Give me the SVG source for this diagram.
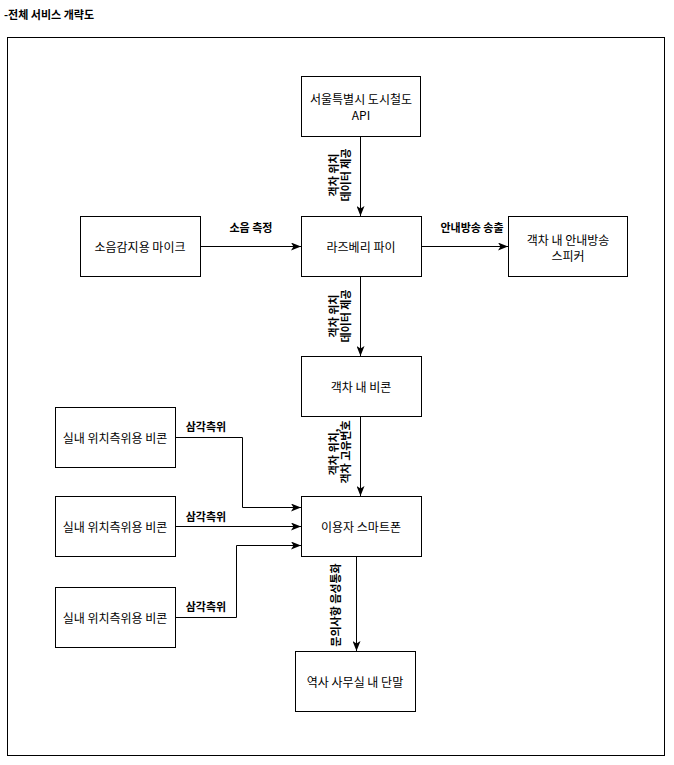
<svg xmlns="http://www.w3.org/2000/svg" width="674" height="765" viewBox="0 0 674 765">
  <style>
    .box { fill: #ffffff; stroke: #000000; stroke-width: 1; }
    .frame { fill: none; stroke: #000000; stroke-width: 1; }
    .edge { fill: none; stroke: #000000; stroke-width: 1; }
    .t { font-family: "Noto Sans CJK KR", "Noto Sans", sans-serif; font-size: 12px; fill: #000000; text-anchor: middle; dominant-baseline: central; }
    .lbl { font-family: "Noto Sans CJK KR", "Noto Sans", sans-serif; font-size: 11px; font-weight: bold; fill: #000000; text-anchor: middle; dominant-baseline: central; }
    .title { font-family: "Noto Sans CJK KR", "Noto Sans", sans-serif; font-size: 11px; font-weight: bold; fill: #000000; }
  </style>
  <defs>
    <marker id="arrow" viewBox="0 0 10 8" refX="10" refY="4" markerWidth="10" markerHeight="8" markerUnits="userSpaceOnUse" orient="auto">
      <path d="M0,0 L10,4 L0,8 L2.5,4 Z" fill="#000000"/>
    </marker>
  </defs>

  <rect width="674" height="765" fill="#ffffff"/>
  <text class="title" x="4" y="19">-전체 서비스 개략도</text>
  <rect class="frame" x="7.5" y="37.5" width="657" height="718"/>

  <!-- connectors -->
  <g id="connectors">
    <path class="edge" d="M360.5,136 L360.5,216" marker-end="url(#arrow)"/>
    <path class="edge" d="M200,246.5 L301,246.5" marker-end="url(#arrow)"/>
    <path class="edge" d="M421,246.5 L508,246.5" marker-end="url(#arrow)"/>
    <path class="edge" d="M360.5,276 L360.5,356" marker-end="url(#arrow)"/>
    <path class="edge" d="M360.5,416 L360.5,496" marker-end="url(#arrow)"/>
    <path class="edge" d="M175,437.5 L242.5,437.5 L242.5,507.5 L301,507.5" marker-end="url(#arrow)"/>
    <path class="edge" d="M175,526.5 L301,526.5" marker-end="url(#arrow)"/>
    <path class="edge" d="M175,617.5 L236.5,617.5 L236.5,545.5 L301,545.5" marker-end="url(#arrow)"/>
    <path class="edge" d="M356.5,556 L356.5,651" marker-end="url(#arrow)"/>

    <text class="lbl" transform="translate(339,175) rotate(-90)"><tspan x="0" y="-6">객차 위치</tspan><tspan x="0" y="6">데이터 제공</tspan></text>
    <text class="lbl" transform="translate(339,316) rotate(-90)"><tspan x="0" y="-6">객차 위치</tspan><tspan x="0" y="6">데이터 제공</tspan></text>
    <text class="lbl" transform="translate(339,452) rotate(-90)"><tspan x="0" y="-6">객차 위치,</tspan><tspan x="0" y="6">객차 고유번호</tspan></text>
    <text class="lbl" transform="translate(335,605) rotate(-90)" x="0" y="0">문의사항 음성통화</text>
    <text class="lbl" x="251" y="227">소음 측정</text>
    <text class="lbl" x="472" y="227">안내방송 송출</text>
    <text class="lbl" x="206" y="426">삼각측위</text>
    <text class="lbl" x="206" y="516">삼각측위</text>
    <text class="lbl" x="206" y="606">삼각측위</text>
  </g>

  <!-- nodes -->
  <g id="seoul-api">
    <rect class="box" x="301.5" y="76.5" width="119" height="60"/>
    <text class="t" x="361" y="98">서울특별시 도시철도</text>
    <text class="t" x="361" y="114">API</text>
  </g>
  <g id="mic">
    <rect class="box" x="80.5" y="216.5" width="120" height="60"/>
    <text class="t" x="140" y="246">소음감지용 마이크</text>
  </g>
  <g id="raspberry-pi">
    <rect class="box" x="301.5" y="216.5" width="120" height="60"/>
    <text class="t" x="361" y="246">라즈베리 파이</text>
  </g>
  <g id="speaker">
    <rect class="box" x="508.5" y="216.5" width="119" height="60"/>
    <text class="t" x="568" y="239">객차 내 안내방송</text>
    <text class="t" x="568" y="255">스피커</text>
  </g>
  <g id="car-beacon">
    <rect class="box" x="301.5" y="356.5" width="120" height="60"/>
    <text class="t" x="361" y="386">객차 내 비콘</text>
  </g>
  <g id="smartphone">
    <rect class="box" x="301.5" y="496.5" width="120" height="60"/>
    <text class="t" x="361" y="526">이용자 스마트폰</text>
  </g>
  <g id="indoor-beacon-1">
    <rect class="box" x="55.5" y="407.5" width="120" height="60"/>
    <text class="t" x="115" y="437">실내 위치측위용 비콘</text>
  </g>
  <g id="indoor-beacon-2">
    <rect class="box" x="55.5" y="496.5" width="120" height="60"/>
    <text class="t" x="115" y="526">실내 위치측위용 비콘</text>
  </g>
  <g id="indoor-beacon-3">
    <rect class="box" x="55.5" y="587.5" width="120" height="60"/>
    <text class="t" x="115" y="617">실내 위치측위용 비콘</text>
  </g>
  <g id="station-terminal">
    <rect class="box" x="295.5" y="651.5" width="120" height="60"/>
    <text class="t" x="355" y="681">역사 사무실 내 단말</text>
  </g>
</svg>
